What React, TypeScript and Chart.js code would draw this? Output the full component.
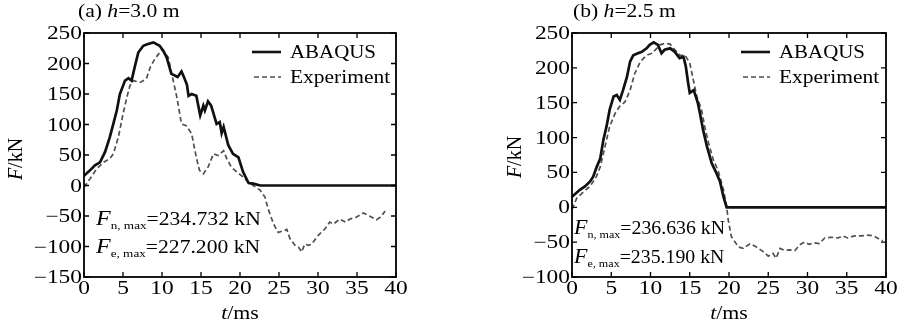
import React, { useEffect, useRef } from 'react';
import { Chart, registerables } from 'chart.js';

Chart.register(...registerables);

// ---------- data ----------
const timeTicks = [0, 5, 10, 15, 20, 25, 30, 35, 40];
const aForceTicks = [-150, -100, -50, 0, 50, 100, 150, 200, 250];
const bForceTicks = [-100, -50, 0, 50, 100, 150, 200, 250];

// Panel (a) h = 3.0 m
const aAbaqusT = [0, 0.7, 1.4, 2.05, 2.7, 3.3, 3.76, 4.2, 4.6, 5.26, 5.7, 6.1, 6.5, 6.96, 7.6, 8.2, 8.9, 9.7, 10.2, 10.6, 11.2, 11.7, 12.0, 12.5, 12.9, 13.2, 13.4, 13.8, 14.4, 14.9, 15.3, 15.5, 15.9, 16.3, 17.0, 17.4, 17.65, 17.9, 18.5, 19.1, 19.8, 20.4, 21.1, 21.7, 22.6, 40];
const aAbaqusF = [16, 24, 33, 38, 55, 79, 101, 123, 150, 172, 176, 172, 194, 218, 229, 232, 234.7, 229, 220, 210, 183, 180, 178, 187, 175, 165, 147, 150, 147, 115, 131, 123, 138, 131, 101, 104, 86, 96, 66, 52, 46, 22, 4, 3, 0, 0];
const aExpT = [0, 0.77, 1.6, 2.5, 3.3, 3.76, 4.4, 5.0, 5.5, 5.9, 6.3, 7.2, 8.0, 8.5, 9.1, 10.0, 10.8, 11.3, 11.9, 12.5, 13.1, 13.8, 14.4, 14.8, 15.3, 15.9, 16.6, 17.2, 17.9, 18.3, 18.9, 19.6, 20.4, 21.1, 21.7, 22.6, 23.2, 23.6, 24.3, 24.9, 25.6, 26.0, 26.4, 27.05, 27.5, 27.9, 28.3, 28.8, 29.2, 30.0, 30.9, 31.5, 32.0, 32.8, 33.5, 34.1, 34.9, 35.8, 36.6, 37.5, 38.0, 38.6];
const aExpF = [-3, 11, 27, 38, 44, 52, 79, 117, 145, 164, 172, 169, 175, 194, 208, 223, 210, 180, 145, 101, 98, 85, 46, 25, 19, 30, 52, 49, 57, 44, 30, 22, 14, 5, 0, -8, -19, -38, -63, -77, -74, -72, -87, -98, -101, -109, -96, -98, -96, -82, -71, -60, -63, -55, -60, -55, -52, -45, -50, -56, -52, -42];

// Panel (b) h = 2.5 m
const bAbaqusT = [0, 1.0, 1.65, 2.3, 2.7, 3.15, 3.6, 4.0, 4.4, 4.8, 5.3, 5.7, 6.1, 6.5, 7.0, 7.4, 7.8, 8.4, 8.9, 9.5, 9.9, 10.4, 10.95, 11.4, 11.8, 12.5, 13.1, 13.7, 14.2, 14.5, 14.8, 15.0, 15.5, 16.0, 16.3, 16.7, 17.2, 17.8, 18.4, 18.85, 19.3, 19.7, 40];
const bAbaqusF = [15, 25, 30, 37, 44, 58, 70, 97, 116, 140, 159, 161, 154, 168, 187, 209, 218, 221, 223, 228, 233, 236.6, 233, 221, 226, 228, 223, 214, 216, 202, 178, 164, 168, 151, 135, 111, 87, 63, 49, 37, 15, 0, 0];
const bExpT = [0, 0.6, 1.45, 2.3, 3.1, 3.6, 4.2, 4.8, 5.5, 6.1, 6.75, 7.4, 8.0, 8.7, 9.5, 10.2, 10.8, 11.2, 11.85, 12.5, 13.1, 13.75, 14.4, 15.0, 15.45, 15.9, 16.5, 16.9, 17.4, 18.0, 18.6, 19.3, 19.7, 19.9, 20.3, 21.2, 21.8, 22.7, 23.5, 24.4, 25.0, 25.6, 26.0, 26.5, 27.1, 27.7, 28.4, 29.0, 29.6, 30.2, 30.9, 31.5, 32.2, 33.0, 33.9, 34.5, 35.1, 36.0, 36.8, 37.7, 38.4, 39.2, 39.6];
const bExpF = [-3, 13, 22, 30, 44, 58, 87, 116, 135, 145, 151, 168, 192, 209, 218, 221, 228, 233, 235.2, 234, 226, 218, 218, 207, 183, 159, 140, 116, 92, 68, 53, 25, 1, -18, -42, -57, -59, -52, -57, -64, -70, -66, -73, -59, -62, -61, -62, -54, -50, -53, -51, -52, -44, -43, -44, -41, -44, -41, -41, -40, -41, -46, -48];

const seriesNames = ['ABAQUS', 'Experiment'];
const panelTitles = [['(a) ', 'h', '=3.0 m'], ['(b) ', 'h', '=2.5 m']];
const aPeaks = ['=234.732 kN', '=227.200 kN'];
const bPeaks = ['=236.636 kN', '=235.190 kN'];

// ---------- helpers ----------
const SERIF = '"Liberation Serif", "Times New Roman", serif';
const f = (size: number, italic = false) => `${italic ? 'italic ' : ''}${size}px ${SERIF}`;

type Run = { text: string; font: string; dy?: number };

// draws a sequence of text runs, horizontally stretched by sx
function drawRuns(
  ctx: CanvasRenderingContext2D,
  x: number,
  y: number,
  runs: Run[],
  sx: number,
  align: 'left' | 'center' | 'right' = 'left'
) {
  const widths: number[] = [];
  let total = 0;
  for (const r of runs) {
    ctx.font = r.font;
    const w = ctx.measureText(r.text).width;
    widths.push(w);
    total += w;
  }
  ctx.save();
  ctx.translate(x, y);
  ctx.scale(sx, 1);
  let cx = align === 'center' ? -total / 2 : align === 'right' ? -total : 0;
  ctx.textAlign = 'left';
  ctx.textBaseline = 'alphabetic';
  runs.forEach((r, i) => {
    ctx.font = r.font;
    ctx.fillText(r.text, cx, r.dy || 0);
    cx += widths[i];
  });
  ctx.restore();
}

const fmtTick = (v: number | string) => {
  const n = Number(v);
  return n < 0 ? '\u2212' + Math.abs(n) : String(n);
};

type Panel = {
  left: number;
  width: number;
  areaLeft: number;
  areaRight: number;
  yMin: number;
  yMax: number;
  yTicks: number[];
  abT: number[];
  abF: number[];
  exT: number[];
  exF: number[];
  title: string[];
  titleX: number;
  yTitle: [number, number];
  xTitleY: number;
  legendX: number;
  peaks: string[];
  peakX: number;
  peakY: [number, number];
  peakSx: number;
};

const panels: Panel[] = [
  {
    left: 0, width: 450, areaLeft: 84, areaRight: 396, yMin: -150, yMax: 250, yTicks: aForceTicks,
    abT: aAbaqusT, abF: aAbaqusF, exT: aExpT, exF: aExpF,
    title: panelTitles[0], titleX: 78, yTitle: [15, 159], xTitleY: 319,
    legendX: 252, peaks: aPeaks, peakX: 96, peakY: [225, 253], peakSx: 1.2,
  },
  {
    left: 450, width: 451, areaLeft: 122, areaRight: 436, yMin: -100, yMax: 250, yTicks: bForceTicks,
    abT: bAbaqusT, abF: bAbaqusF, exT: bExpT, exF: bExpF,
    title: panelTitles[1], titleX: 123, yTitle: [64, 157], xTitleY: 319,
    legendX: 291, peaks: bPeaks, peakX: 124, peakY: [234, 263], peakSx: 1.1,
  },
];

const TOP = 33;
const BOTTOM = 277;
const H = 325;
const EXP_COLOR = '#505050';
const TICK_SX = 1.3;

function makeDecor(p: Panel) {
  return {
    id: 'decor',
    afterDraw(chart: any) {
      const ctx: CanvasRenderingContext2D = chart.ctx;
      const a = chart.chartArea;
      const xs = chart.scales.x;
      const ys = chart.scales.y;
      ctx.save();
      ctx.fillStyle = '#000';
      ctx.strokeStyle = '#000';
      // box
      ctx.lineWidth = 1.8;
      ctx.setLineDash([]);
      ctx.strokeRect(a.left, a.top, a.right - a.left, a.bottom - a.top);
      // inward ticks on all four sides
      ctx.lineWidth = 1.3;
      const tl = 5;
      ctx.beginPath();
      for (const t of xs.ticks) {
        const px = xs.getPixelForValue(t.value);
        ctx.moveTo(px, a.bottom); ctx.lineTo(px, a.bottom - tl);
        ctx.moveTo(px, a.top); ctx.lineTo(px, a.top + tl);
      }
      for (const t of ys.ticks) {
        const py = ys.getPixelForValue(t.value);
        ctx.moveTo(a.left, py); ctx.lineTo(a.left + tl, py);
        ctx.moveTo(a.right, py); ctx.lineTo(a.right - tl, py);
      }
      ctx.stroke();

      // tick labels, positioned by the scales
      for (const t of xs.ticks) {
        const px = xs.getPixelForValue(t.value);
        drawRuns(ctx, px, a.bottom + 17, [{ text: fmtTick(t.value), font: f(18) }], TICK_SX, 'center');
      }
      for (const t of ys.ticks) {
        const py = ys.getPixelForValue(t.value);
        drawRuns(ctx, a.left - 2, py + 6, [{ text: fmtTick(t.value), font: f(18) }], TICK_SX, 'right');
      }

      // panel title
      drawRuns(ctx, p.titleX, 17, [
        { text: p.title[0], font: f(18) },
        { text: p.title[1], font: f(18, true) },
        { text: p.title[2], font: f(18) },
      ], 1.2);

      // x axis title
      drawRuns(ctx, (a.left + a.right) / 2, p.xTitleY, [
        { text: 't', font: f(19, true) },
        { text: '/ms', font: f(19) },
      ], 1.15, 'center');

      // y axis title
      ctx.save();
      ctx.translate(p.yTitle[0] + 7, p.yTitle[1]);
      ctx.rotate(-Math.PI / 2);
      drawRuns(ctx, 0, 0, [
        { text: 'F', font: f(20, true) },
        { text: '/kN', font: f(20) },
      ], 1.0, 'center');
      ctx.restore();

      // legend
      const lx1 = p.legendX;
      const lx2 = p.legendX + 29;
      ctx.lineWidth = 2.6;
      ctx.strokeStyle = '#111';
      ctx.setLineDash([]);
      ctx.beginPath(); ctx.moveTo(lx1, 52); ctx.lineTo(lx2, 52); ctx.stroke();
      ctx.lineWidth = 1.7;
      ctx.strokeStyle = EXP_COLOR;
      ctx.setLineDash([5, 3]);
      ctx.beginPath(); ctx.moveTo(lx1 + 2, 77); ctx.lineTo(lx2, 77); ctx.stroke();
      ctx.setLineDash([]);
      ctx.fillStyle = '#000';
      drawRuns(ctx, lx2 + 9, 58, [{ text: seriesNames[0], font: f(19) }], 1.1);
      drawRuns(ctx, lx2 + 9, 83, [{ text: seriesNames[1], font: f(19) }], 1.13);

      // peak annotations
      const subs = ['n, max', 'e, max'];
      p.peaks.forEach((txt, i) => {
        drawRuns(ctx, p.peakX, p.peakY[i], [
          { text: 'F', font: f(20, true) },
          { text: subs[i], font: f(11), dy: 4 },
          { text: txt, font: f(18) },
        ], p.peakSx);
      });
      ctx.restore();
    },
  };
}

function PanelChart({ p }: { p: Panel }) {
  const ref = useRef<HTMLCanvasElement | null>(null);
  useEffect(() => {
    if (!ref.current) return;
    const chart = new Chart(ref.current, {
      type: 'line',
      data: {
        datasets: [
          {
            label: seriesNames[0],
            data: p.abT.map((t, i) => ({ x: t, y: p.abF[i] })),
            borderColor: '#111',
            borderWidth: 2.7,
            pointRadius: 0,
            tension: 0,
            fill: false,
            order: 0,
          },
          {
            label: seriesNames[1],
            data: p.exT.map((t, i) => ({ x: t, y: p.exF[i] })),
            borderColor: EXP_COLOR,
            borderWidth: 1.7,
            borderDash: [5, 3],
            pointRadius: 0,
            tension: 0,
            fill: false,
            order: 1,
          },
        ],
      },
      options: {
        responsive: false,
        animation: false,
        devicePixelRatio: 1,
        layout: { padding: { left: 0, right: p.width - p.areaRight, top: TOP, bottom: 0 } },
        plugins: { legend: { display: false }, tooltip: { enabled: false }, title: { display: false } },
        scales: {
          x: {
            type: 'linear',
            min: 0,
            max: 40,
            afterBuildTicks: (s: any) => { s.ticks = timeTicks.map((v) => ({ value: v })); },
            ticks: { display: false },
            grid: { display: false, drawTicks: false },
            border: { display: false },
            afterFit: (s: any) => { s.height = H - BOTTOM; },
          },
          y: {
            type: 'linear',
            min: p.yMin,
            max: p.yMax,
            afterBuildTicks: (s: any) => { s.ticks = p.yTicks.map((v) => ({ value: v })); },
            ticks: { display: false },
            grid: { display: false, drawTicks: false },
            border: { display: false },
            afterFit: (s: any) => { s.width = p.areaLeft; },
          },
        },
      },
      plugins: [makeDecor(p)],
    } as any);
    return () => chart.destroy();
  }, [p]);
  return (
    <canvas
      ref={ref}
      width={p.width}
      height={H}
      style={{ position: 'absolute', left: p.left, top: 0, width: p.width, height: H }}
    />
  );
}

export default function App() {
  return (
    <div style={{ position: 'fixed', left: 0, top: 0, width: 901, height: H, background: '#fff', overflow: 'hidden' }}>
      {panels.map((p, i) => (
        <PanelChart key={i} p={p} />
      ))}
    </div>
  );
}
